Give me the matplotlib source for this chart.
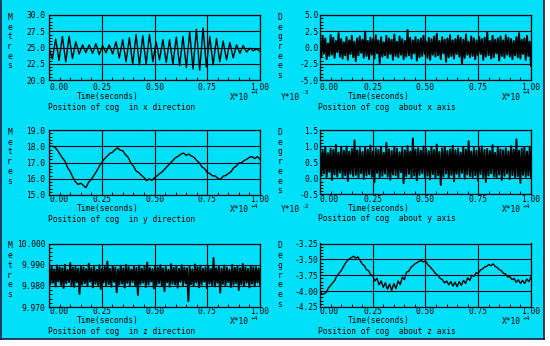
#!/usr/bin/env python3

import numpy as np
import matplotlib
matplotlib.use("Agg")
import matplotlib.pyplot as plt
from matplotlib.ticker import MultipleLocator, AutoMinorLocator, FormatStrFormatter
from matplotlib.patches import Rectangle
from matplotlib.lines import Line2D

W, H = 550, 346
CYAN = "#00E0FA"
INK = "#000000"
FONT = "DejaVu Sans Mono"
FS = 5.7

# --- data -------------------------------------------------------------------
# x position: successive extrema of the roll-like oscillation (metres)
pos_x = [25.0,
         23.2, 26.3, 23.0, 26.7, 22.8, 26.7, 23.3, 25.9, 24.0, 25.4,
         24.2, 25.4, 24.1, 25.6, 23.9, 25.3, 24.2, 25.4, 24.0, 25.9,
         23.4, 26.2, 22.8, 26.5, 22.4, 27.0, 22.3, 26.8, 22.4, 27.0,
         22.8, 25.9, 23.1, 26.2, 22.7, 26.2, 22.4, 26.6, 22.2, 26.7,
         21.9, 27.4, 21.7, 27.8, 21.5, 28.0, 22.0, 26.7, 22.3, 26.4,
         22.8, 26.0, 23.1, 25.8, 23.4, 25.4, 24.1, 25.3, 24.3, 24.9,
         24.5, 24.8, 24.4]

# y position (metres), sampled every 1/80 of the record
pos_y = [18.00, 18.00, 17.98, 17.80, 17.55, 17.30, 17.10, 16.70, 16.45, 16.10,
         15.82, 15.65, 15.72, 15.60, 15.45, 15.78, 15.95, 16.20, 16.45, 16.75,
         17.00, 17.22, 17.38, 17.55, 17.62, 17.78, 17.90, 17.76, 17.72, 17.48,
         17.32, 16.98, 16.78, 16.48, 16.38, 16.22, 16.08, 15.88, 15.99, 15.90,
         16.06, 16.18, 16.32, 16.44, 16.62, 16.78, 16.97, 17.13, 17.30, 17.38,
         17.52, 17.58, 17.44, 17.52, 17.40, 17.32, 17.13, 16.97, 16.73, 16.62,
         16.38, 16.32, 16.18, 16.17, 16.03, 15.95, 16.16, 16.20, 16.32, 16.43,
         16.67, 16.78, 16.97, 16.98, 17.12, 17.20, 17.32, 17.36, 17.24, 17.36,
         17.20]

# z position, in units of 1e-4 m above 9.970 m
pos_z = [185, 108, 192, 115, 178, 97, 196, 121, 188, 104, 183, 90, 199, 112, 175, 118, 208, 101, 186, 95,
         190, 117, 181, 62, 194, 106, 187, 113, 179, 99, 205, 120, 184, 93, 191, 110, 176, 103, 197, 85,
         182, 116, 189, 100, 215, 108, 180, 96, 193, 119, 186, 70, 178, 105, 195, 111, 183, 92, 200, 114,
         188, 102, 177, 118, 192, 98, 185, 57, 196, 109, 181, 115, 190, 94, 210, 107, 184, 121, 179, 88,
         194, 104, 187, 113, 198, 100, 182, 75, 189, 117, 176, 96, 203, 110, 185, 106, 191, 91, 180, 119,
         197, 103, 186, 112, 183, 28, 192, 108, 178, 99, 201, 116, 188, 93, 195, 105, 181, 120, 187, 89,
         193, 111, 179, 102, 232, 97, 184, 114, 190, 68, 182, 109, 196, 101, 186, 118, 177, 94, 199, 106,
         185, 113, 191, 80, 183, 107, 204, 98, 188, 115, 180, 92, 194, 110, 187, 100, 189, 116, 182, 104]

# rotation about x, tenths of 1e-3 degree
rot_x = [12, -15, 17, -9, 14, -18, 6, -13, 19, -11, 15, -16, 10, -7, 22, -14, 13, -17, 8, -12,
         16, -19, 11, -10, 18, -15, 9, -21, 14, -12, 17, -8, 12, -16, 25, -13, 10, -18, 15, -11,
         13, -17, 19, -9, 11, -24, 16, -14, 8, -12, 18, -16, 14, -10, 12, -19, 20, -13, 9, -15,
         17, -11, 13, -18, 10, -14, 27, -12, 15, -17, 11, -9, 16, -20, 12, -15, 14, -13, 18, -10,
         9, -16, 15, -19, 13, -11, 17, -14, 21, -12, 10, -18, 16, -9, 12, -22, 14, -15, 19, -13,
         11, -17, 13, -10, 18, -14, 15, -26, 12, -16, 20, -11, 9, -15, 17, -13, 14, -18, 11, -12,
         16, -10, 13, -19, 15, -14, 24, -12, 10, -17, 18, -15, 12, -9, 14, -20, 17, -13, 11, -16,
         19, -11, 15, -14, 13, -18, 10, -12, 16, -15, 22, -17, 12, -10, 14, -19, 18, -13, 9, -28]

# rotation about y, hundredths of 1e-2 degree
rot_y = [90, 8, 85, 15, 97, 4, 78, 20, 92, -5, 88, 12, 104, 6, 80, 18, 95, 2, 86, 10,
         99, -8, 83, 14, 91, 7, 118, 11, 87, 3, 94, 16, 82, -2, 96, 9, 89, 13, 102, 5,
         84, -12, 93, 17, 88, 1, 98, 8, 79, 15, 110, 6, 90, -4, 85, 12, 97, 10, 92, 3,
         81, 19, 95, -15, 87, 7, 100, 14, 83, 2, 124, 9, 89, -6, 94, 11, 86, 16, 99, 4,
         91, 8, 84, -3, 97, 13, 88, 0, 105, 10, 82, -20, 93, 6, 96, 15, 85, 2, 90, 11,
         101, -9, 87, 14, 92, 5, 80, 17, 98, -1, 89, 12, 115, 7, 83, 3, 95, 10, 86, -7,
         94, 13, 99, 4, 88, -11, 91, 9, 85, 16, 103, 6, 79, 1, 96, 12, 90, -5, 87, 8,
         93, 15, 84, -2, 100, 10, 89, 3, 121, 7, 86, -14, 92, 11, 97, 5, 83, 9, 95, 2]

# rotation about z (degrees), sampled every 1/100 of the record
rot_z = [-4.00, -4.05, -4.04, -4.02, -3.95, -3.91, -3.87, -3.83, -3.76, -3.72,
         -3.68, -3.62, -3.56, -3.52, -3.49, -3.47, -3.45, -3.48, -3.46, -3.52,
         -3.57, -3.60, -3.66, -3.68, -3.74, -3.76, -3.84, -3.80, -3.90, -3.84,
         -3.94, -3.87, -3.97, -3.89, -3.99, -3.88, -3.96, -3.84, -3.90, -3.78,
         -3.82, -3.70, -3.69, -3.63, -3.60, -3.57, -3.55, -3.53, -3.52, -3.54,
         -3.52, -3.58, -3.61, -3.65, -3.69, -3.73, -3.76, -3.80, -3.82, -3.87,
         -3.84, -3.90, -3.85, -3.92, -3.86, -3.93, -3.85, -3.91, -3.83, -3.88,
         -3.79, -3.83, -3.75, -3.77, -3.71, -3.72, -3.67, -3.65, -3.62, -3.61,
         -3.58, -3.60, -3.57, -3.61, -3.63, -3.66, -3.68, -3.72, -3.73, -3.78,
         -3.77, -3.82, -3.80, -3.86, -3.82, -3.88, -3.83, -3.88, -3.81, -3.85,
         -3.78]

x_ticks = [0.0, 0.25, 0.5, 0.75, 1.0]


def fpos(x, y):
    return x / W, 1 - y / H


def txt(fig, x, y, s, size=FS, **kw):
    fx, fy = fpos(x, y)
    fig.text(fx, fy, s, fontsize=size, family=FONT, color=INK, **kw)


def make_panel(fig, box, values, ylim, ystep, yfmt, ylabel, title, col,
               ymult=None, xpad=2.0, lw=0.9):
    left, top, right, bottom = box
    ax = fig.add_axes([left / W, 1 - bottom / H, (right - left) / W, (bottom - top) / H])
    ax.set_facecolor("none")

    t = np.linspace(0, 1, len(values))
    ax.plot(t, values, color=INK, lw=lw)

    ax.set_xlim(0, 1)
    ax.set_ylim(*ylim)
    ax.set_xticks(x_ticks)
    ax.xaxis.set_major_formatter(FormatStrFormatter("%.2f"))
    ax.yaxis.set_major_locator(MultipleLocator(ystep))
    ax.yaxis.set_major_formatter(FormatStrFormatter(yfmt))
    ax.xaxis.set_minor_locator(AutoMinorLocator(5))
    ax.yaxis.set_minor_locator(AutoMinorLocator(5))
    ax.grid(True, which="major", color=INK, lw=0.8)
    ax.tick_params(which="both", direction="in", top=False, right=False,
                   color=INK, width=0.7, labelsize=FS, labelcolor=INK)
    ax.tick_params(which="major", length=0)
    ax.tick_params(which="minor", length=2.3)
    ax.tick_params(axis="x", pad=xpad)
    ax.tick_params(axis="y", pad=2.5 if col == 0 else 1.0)
    for lab in ax.get_xticklabels() + ax.get_yticklabels():
        lab.set_family(FONT)
    ax.get_xticklabels()[0].set_ha("left")
    for sp in ax.spines.values():
        sp.set_color(INK)
        sp.set_linewidth(0.9)

    # stacked axis unit, multipliers, captions
    upper = top < 100
    lx = 9.5 if col == 0 else 280
    txt(fig, lx, top - 2, "\n".join(ylabel), ha="center", va="top", linespacing=1.1)
    base = bottom + (17 if upper else 13.5)
    tx = 107.5 if col == 0 else 379
    txt(fig, tx, base, "Time(seconds)", ha="center", va="center")
    mbase = base if upper else base + 1.5
    sup = 4.0 if upper else 3.2
    mx = 230 if col == 0 else 502
    txt(fig, mx, mbase, "X*10", ha="left", va="center")
    txt(fig, mx + 20.5, mbase - sup, "+4", size=FS - 1.2, ha="left", va="center")
    if ymult is not None:
        txt(fig, 281, mbase, "Y*10", ha="left", va="center")
        txt(fig, 301.5, mbase - sup, ymult, size=FS - 1.2, ha="left", va="center")
    caption_x = 48 if col == 0 else 318
    txt(fig, caption_x, base + 10.5, title, ha="left", va="center")
    return ax


def main():
    fig = plt.figure(figsize=(W / 100, H / 100), dpi=100)
    fig.patch.set_facecolor("white")
    fig.patches.append(Rectangle((0, 1 - 339 / H), 544 / W, 339 / H,
                                 transform=fig.transFigure, facecolor=CYAN,
                                 edgecolor="none", zorder=-10))
    for xs, ys in [([0.5, 0.5], [0, 338.5]), ([0.5, 543.5], [338.5, 338.5]),
                   ([543.5, 543.5], [0, 338.5])]:
        fig.add_artist(Line2D([x / W for x in xs], [1 - y / H for y in ys],
                              transform=fig.transFigure, color="#1a1a40", lw=1.2))

    make_panel(fig, (49, 15, 260, 80), pos_x, (20, 30), 2.5, "%.1f", "Metres",
               "Position of cog  in x direction", 0, xpad=2.0, lw=1.0)
    make_panel(fig, (320, 15, 531, 80), np.array(rot_x) / 10.0, (-5, 5), 2.5, "%.1f", "Degrees",
               "Position of cog  about x axis", 1, ymult="-3", xpad=2.0, lw=1.4)
    make_panel(fig, (49, 130, 260, 195), pos_y, (15, 19), 1.0, "%.1f", "Metres",
               "Position of cog  in y direction", 0, xpad=0.3, lw=1.0)
    make_panel(fig, (320, 130, 531, 194.5), np.array(rot_y) / 100.0, (-0.5, 1.5), 0.5, "%.1f", "Degrees",
               "Position of cog  about y axis", 1, ymult="-2", xpad=0.3, lw=1.4)
    make_panel(fig, (49, 243.5, 260, 307), 9.97 + np.array(pos_z) * 1e-4, (9.97, 10.0), 0.01, "%.3f",
               "Metres", "Position of cog  in z direction", 0, xpad=0.3, lw=1.4)
    make_panel(fig, (320, 243.5, 531, 307), rot_z, (-4.25, -3.25), 0.25, "%.2f", "Degrees",
               "Position of cog  about z axis", 1, xpad=0.3, lw=1.0)

    fig.savefig("out.png", dpi=100, facecolor=fig.get_facecolor())


if __name__ == "__main__":
    main()
